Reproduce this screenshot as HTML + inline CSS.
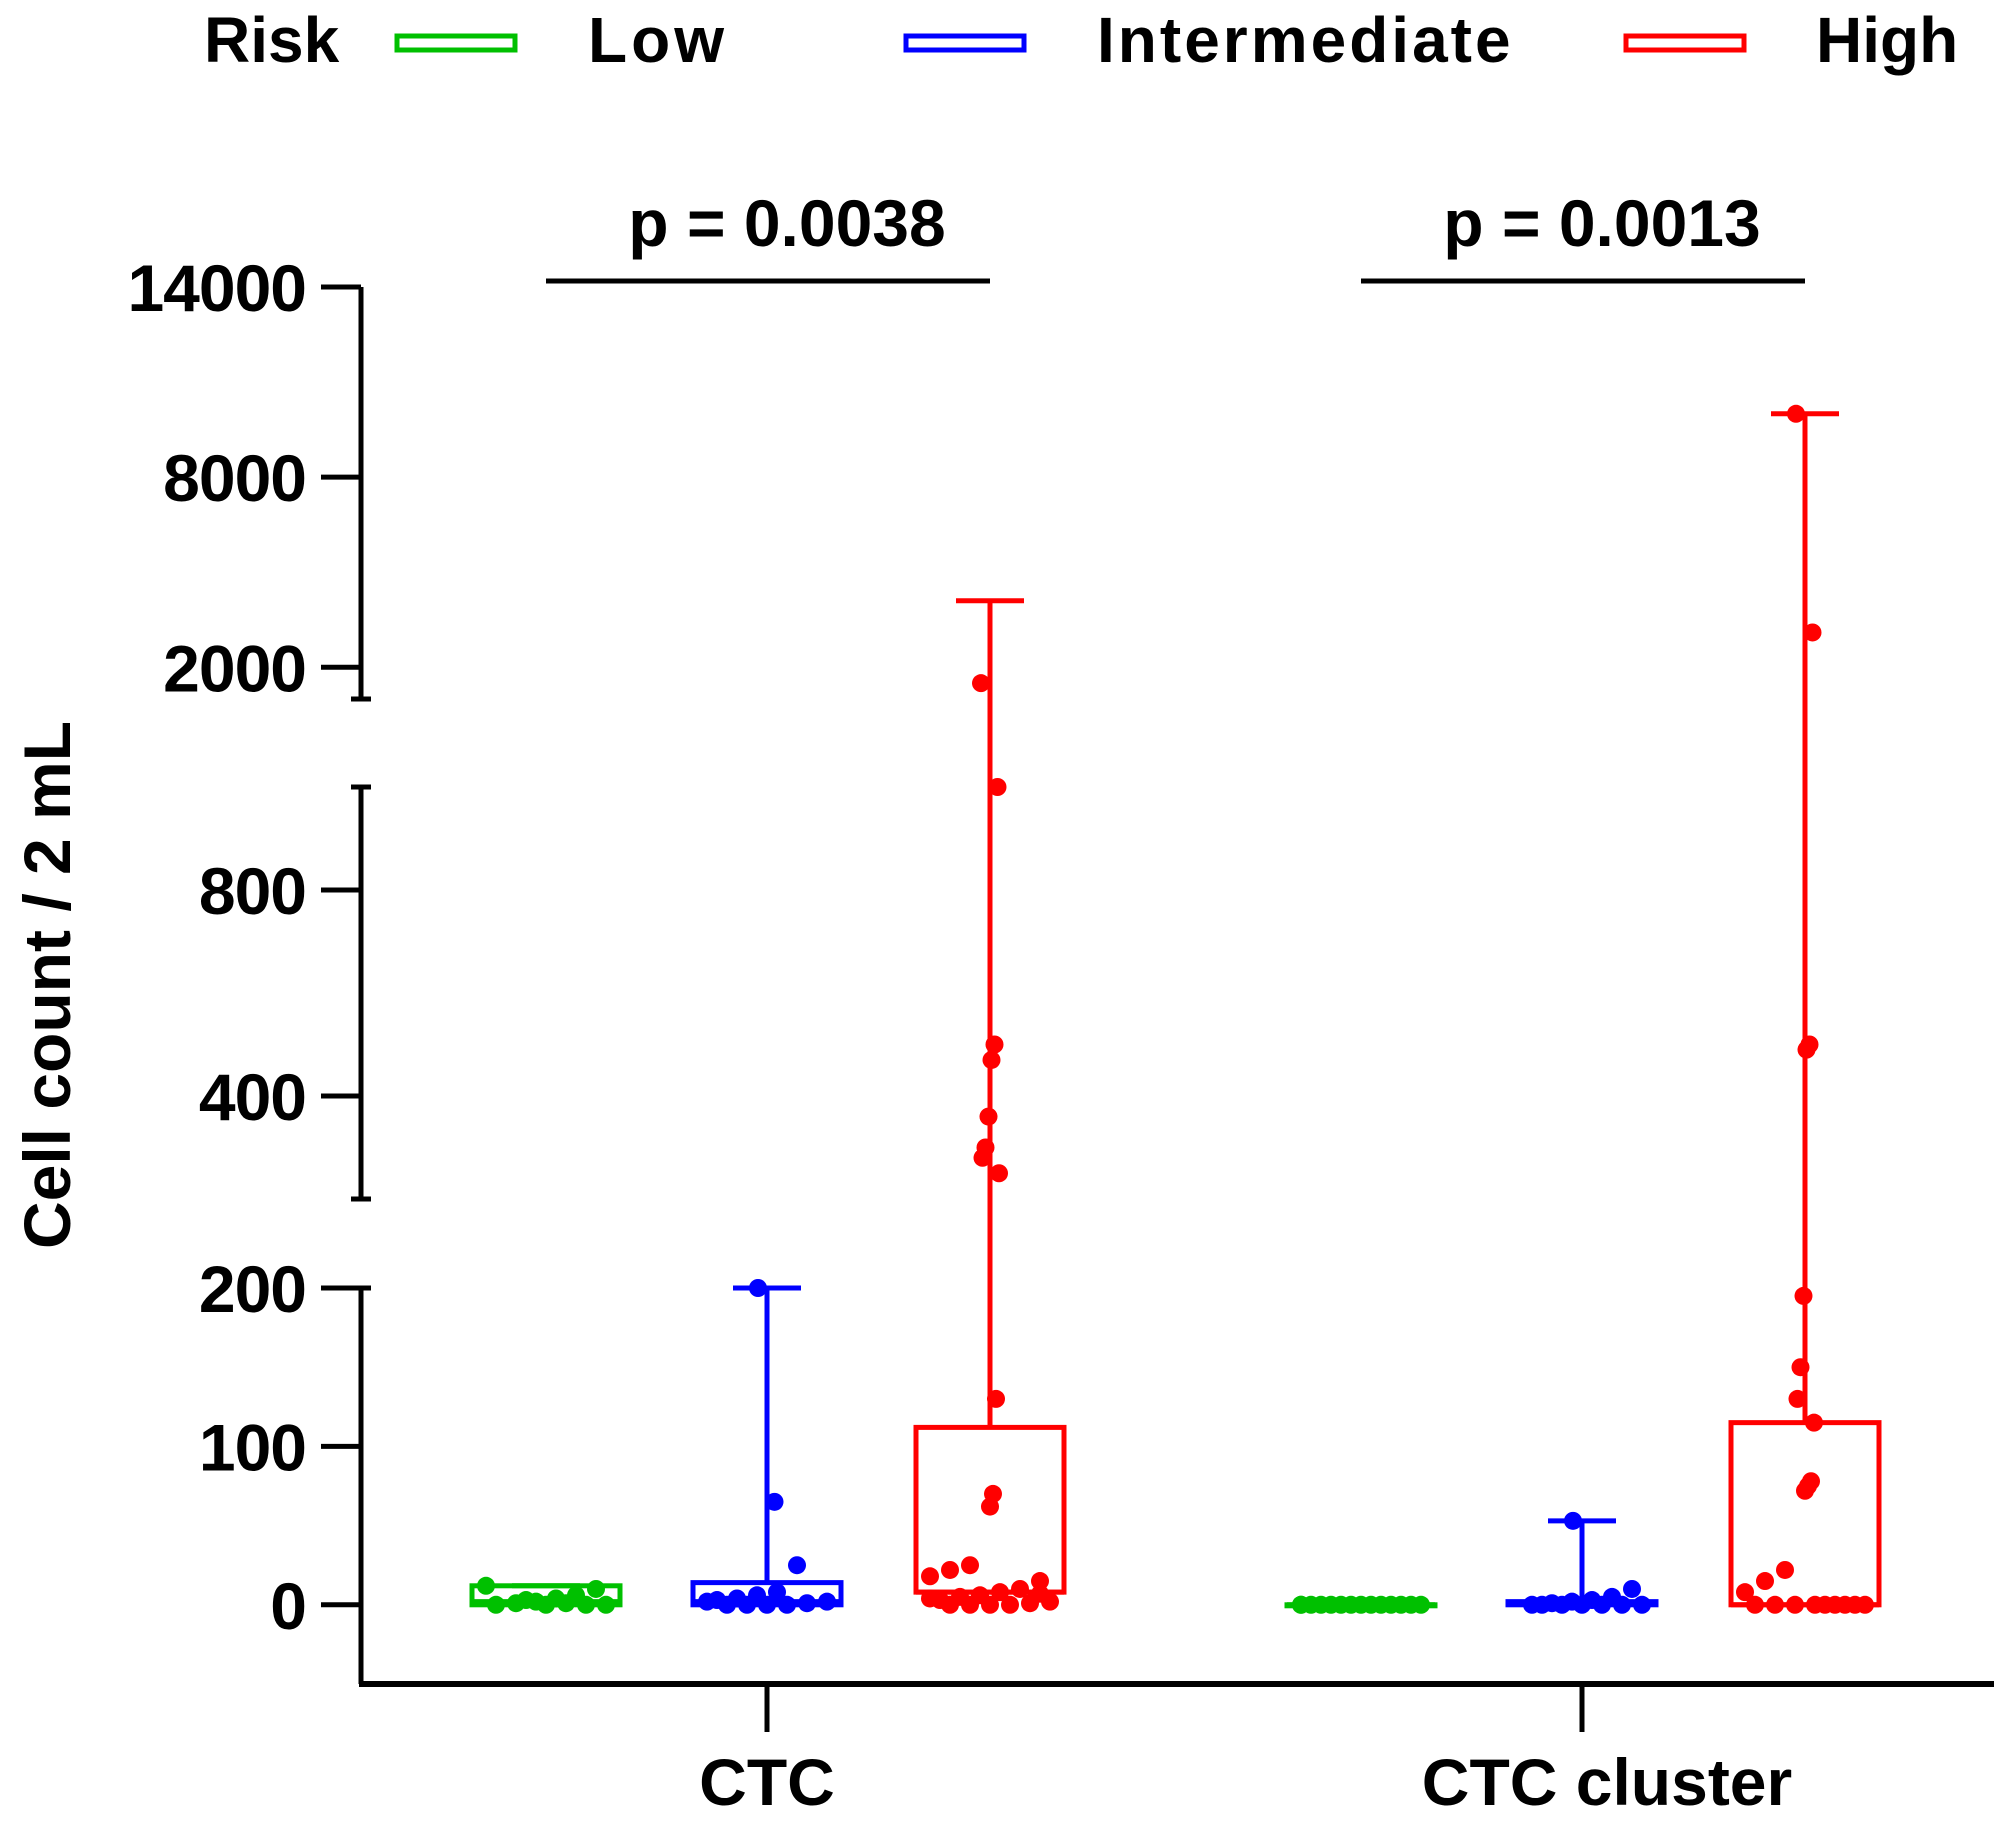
<!DOCTYPE html>
<html><head><meta charset="utf-8"><style>
html,body{margin:0;padding:0;background:#fff}
svg text{font-family:"Liberation Sans",sans-serif;font-weight:bold}
</style></head><body>
<svg id="chart" width="2000" height="1836" viewBox="0 0 2000 1836" xmlns="http://www.w3.org/2000/svg">
<g>
<text x="204" y="62" font-size="64">Risk</text>
<rect x="397" y="36" width="118" height="14" fill="none" stroke="#00c000" stroke-width="5"/>
<text x="588" y="62" font-size="64" letter-spacing="4">Low</text>
<rect x="906" y="36" width="118" height="14" fill="none" stroke="#0000ff" stroke-width="5"/>
<text x="1097" y="62" font-size="64" letter-spacing="3">Intermediate</text>
<rect x="1626" y="36" width="118" height="14" fill="none" stroke="#ff0000" stroke-width="5"/>
<text x="1816" y="62" font-size="64">High</text>
</g>
<g id="axes"></g>
<g id="marks"></g>
<text transform="translate(70,985) rotate(-90)" text-anchor="middle" font-size="66">Cell count / 2 mL</text>
</svg>
<script>
const categories = ["CTC", "CTC cluster"];
const groups = ["Low", "Intermediate", "High"];
const pValues = ["p = 0.0038", "p = 0.0013"];
const yTickValues = [0, 100, 200, 400, 800, 2000, 8000, 14000];
const yTickLabels = ["0", "100", "200", "400", "800", "2000", "8000", "14000"];
// box stats: [min, q1, median, q3, max]
const ctcLowBox = [0, 0, 2, 12, 12];
const ctcIntBox = [0, 0, 2, 14, 200];
const ctcHighBox = [0, 8, 8, 112, 4100];
const clLowBox = [0, 0, 0, 0, 0];
const clIntBox = [0, 0, 1, 2, 53];
const clHighBox = [0, 0, 0, 115, 10000];
const ctcLowPts = [12, 10, 6, 4, 2, 1, 0, 0, 0, 1, 0, 3];
const ctcIntPts = [200, 65, 25, 8, 6, 4, 3, 2, 1, 0, 0, 0, 0, 2];
const ctcHighPts = [1500, 1000, 500, 470, 360, 300, 280, 250, 130, 70, 62, 25, 22, 18, 15, 10, 8, 6, 5, 3, 2, 1, 0, 0, 0, 0, 4, 7];
const clLowPts = [0, 0, 0, 0, 0, 0, 0, 0, 0, 0, 0, 0, 0, 0];
const clIntPts = [53, 10, 5, 3, 2, 1, 0, 0, 0, 0, 0, 0, 0];
const clHighPts = [10000, 3100, 500, 490, 195, 150, 130, 115, 78, 75, 72, 22, 15, 8, 0, 0, 0, 0, 0, 0, 0, 0, 0];
const boxes = [[ctcLowBox, ctcIntBox, ctcHighBox], [clLowBox, clIntBox, clHighBox]];
const points = [[ctcLowPts, ctcIntPts, ctcHighPts], [clLowPts, clIntPts, clHighPts]];
const colors = ["#00c000", "#0000ff", "#ff0000"];

const segs = [[-50, 200, 1684, 1288], [200, 1000, 1199, 787], [1000, 14000, 699, 287]];
function y(v){
  for (const s of segs){ if (v <= s[1] || s === segs[2]) { return s[2] + (v - s[0]) / (s[1] - s[0]) * (s[3] - s[2]); } }
}
const catX = [767, 1582];
const offs = [-221, 0, 223];
const boxW = 148;
const NS = "http://www.w3.org/2000/svg";
function mk(tag, attrs, parent){ const e = document.createElementNS(NS, tag); for (const k in attrs) e.setAttribute(k, attrs[k]); parent.appendChild(e); return e; }
const axes = document.getElementById('axes'), marks = document.getElementById('marks');
const ax = 361;
segs.forEach((s, i) => {
  const l = mk('line', {x1: ax, x2: ax, y1: s[2], y2: s[3], stroke: '#000', 'stroke-width': 5}, axes);
  
  
  if (i > 0) { const c = mk('line', {x1: ax - 10, x2: ax + 10, y1: s[2], y2: s[2], stroke: '#000', 'stroke-width': 5}, axes);
      }
  if (i < 2) { const c = mk('line', {x1: ax - 10, x2: ax + 10, y1: s[3], y2: s[3], stroke: '#000', 'stroke-width': 5}, axes);
      }
});
yTickValues.forEach((v, i) => {
  const yy = y(v);
  const t = mk('line', {x1: ax - 40, x2: ax, y1: yy, y2: yy, stroke: '#000', 'stroke-width': 5}, axes);
  
  
  const tx = mk('text', {x: 306, y: yy + 24, 'text-anchor': 'end', 'font-size': 66, 'letter-spacing': '-1'}, axes);
  tx.textContent = yTickLabels[i];
  
  
});
const xa = mk('line', {x1: ax - 2, x2: 1994, y1: 1684, y2: 1684, stroke: '#000', 'stroke-width': 6}, axes);


categories.forEach((c, i) => {
  const t = mk('line', {x1: catX[i], x2: catX[i], y1: 1684, y2: 1732, stroke: '#000', 'stroke-width': 5}, axes);
  
  
  const tx = mk('text', {x: catX[i] + (i ? 25 : 0), y: 1805, 'text-anchor': 'middle', 'font-size': 66}, axes);
  tx.textContent = c;
  
  
  const pl = mk('line', {x1: catX[i] + offs[0], x2: catX[i] + offs[2], y1: 281, y2: 281, stroke: '#000', 'stroke-width': 5}, axes);
  
  
  const pt = mk('text', {x: catX[i] + 20, y: 246, 'text-anchor': 'middle', 'font-size': 66}, axes);
  pt.textContent = pValues[i];
  
  
});
function vline(x, v1, v2, col, g){
  segs.forEach(s => {
    const a = Math.max(v1, s[0]), b = Math.min(v2, s[1]);
    if (b > a) { const l = mk('line', {x1: x, x2: x, y1: y(a), y2: y(b), stroke: col, 'stroke-width': 5}, g);
        }
  });
}
categories.forEach((c, ci) => {
  groups.forEach((gname, gi) => {
    const cx = catX[ci] + offs[gi], col = colors[gi], b = boxes[ci][gi];
    const g = mk('g', {}, marks);
    
    
    vline(cx, b[3], b[4], col, g);
    const cap = mk('line', {x1: cx - 34, x2: cx + 34, y1: y(b[4]), y2: y(b[4]), stroke: col, 'stroke-width': 5}, g);
    
    
    const r = mk('rect', {x: cx - boxW / 2, y: y(b[3]), width: boxW, height: Math.max(1, y(b[1]) - y(b[3])), fill: 'none', stroke: col, 'stroke-width': 5}, g);
    
    
    const m = mk('line', {x1: cx - boxW / 2, x2: cx + boxW / 2, y1: y(b[2]), y2: y(b[2]), stroke: col, 'stroke-width': 5}, g);
    
    
    const pts = points[ci][gi];
    pts.forEach((v, k) => {
      const spread = v >= 30 ? 0.15 : 1;
      const jit = ((k * 37) % 13 - 6) * 10 * spread;
      const d = mk('circle', {cx: cx + jit, cy: y(v), r: 9, fill: col}, g);
      
      
    });
  });
});
</script>
</body></html>
